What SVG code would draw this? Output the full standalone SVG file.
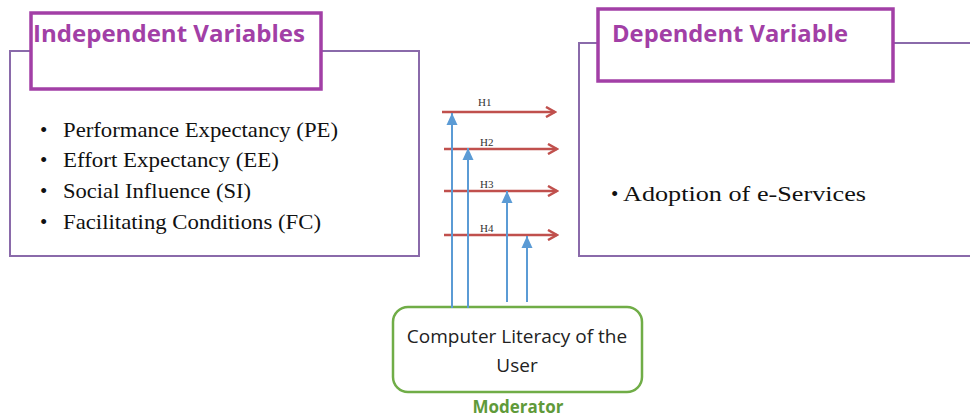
<svg xmlns="http://www.w3.org/2000/svg" width="970" height="417" viewBox="0 0 970 417">
<style>
.outer{fill:#fff;stroke:#8a6aaa;stroke-width:2}
.title{fill:#fff;stroke:#a23fa6;stroke-width:3.5}
.ttext{font-family:"Open Sans","Liberation Sans",sans-serif;font-weight:bold;font-size:23px;fill:#a23fa6}
.item{font-family:"Liberation Serif",serif;font-size:21px;fill:#111}
.h{font-family:"Liberation Serif",serif;font-size:11px;fill:#333}
.red{stroke:#c0504d;stroke-width:2.5;fill:none}
.blue{stroke:#5b9bd5;stroke-width:2;fill:none}
.mod{font-family:"Open Sans","Liberation Sans",sans-serif;font-size:19px;fill:#222}
</style>
<defs>
<marker id="ra" markerWidth="12" markerHeight="12" refX="10" refY="6" orient="auto" markerUnits="userSpaceOnUse">
<path d="M1,1 L10,6 L1,11" fill="none" stroke="#c0504d" stroke-width="2.5"/>
</marker>
<marker id="ba" markerWidth="13" markerHeight="12" refX="12" refY="6" orient="auto" markerUnits="userSpaceOnUse">
<path d="M0,0.5 L12,6 L0,11.5 Z" fill="#5b9bd5"/>
</marker>
</defs>
<rect width="970" height="417" fill="#fff"/>
<g id="independent">
<rect class="outer" x="10" y="51" width="409" height="205"/>
<rect class="title" x="31" y="13" width="290" height="76"/>
<text class="ttext" x="33" y="42" textLength="272" lengthAdjust="spacingAndGlyphs">Independent Variables</text>
<g class="item">
<text x="40" y="137">•</text><text x="63" y="137" textLength="275" lengthAdjust="spacingAndGlyphs">Performance Expectancy (PE)</text>
<text x="40" y="167">•</text><text x="63" y="167" textLength="216" lengthAdjust="spacingAndGlyphs">Effort Expectancy (EE)</text>
<text x="40" y="198">•</text><text x="63" y="198" textLength="188" lengthAdjust="spacingAndGlyphs">Social Influence (SI)</text>
<text x="40" y="229">•</text><text x="63" y="229" textLength="258" lengthAdjust="spacingAndGlyphs">Facilitating Conditions (FC)</text>
</g>
</g>
<g id="dependent">
<rect class="outer" x="579" y="43" width="400" height="213"/>
<rect class="title" x="598" y="9" width="295" height="72"/>
<text class="ttext" x="612" y="42" textLength="236" lengthAdjust="spacingAndGlyphs">Dependent Variable</text>
<text class="item" x="611" y="201" font-size="24">•</text>
<text class="item" x="623" y="201" font-size="24" textLength="243" lengthAdjust="spacingAndGlyphs">Adoption of e-Services</text>
</g>
<g id="moderator">
<rect x="393" y="307" width="249" height="85" rx="15" fill="#fff" stroke="#70ad47" stroke-width="2.5"/>
<text class="mod" x="517" y="343" text-anchor="middle">Computer Literacy of the</text>
<text class="mod" x="517" y="372" text-anchor="middle">User</text>
<text x="518" y="413" text-anchor="middle" font-family="Open Sans, Liberation Sans, sans-serif" font-weight="bold" font-size="17" fill="#5f9a3a">Moderator</text>
</g>
<g id="connectors">
<line class="red" x1="442" y1="112" x2="555" y2="112" marker-end="url(#ra)"/>
<line class="red" x1="444" y1="149" x2="557" y2="149" marker-end="url(#ra)"/>
<line class="red" x1="444" y1="191" x2="557" y2="191" marker-end="url(#ra)"/>
<line class="red" x1="444" y1="235" x2="557" y2="235" marker-end="url(#ra)"/>
<text class="h" x="478" y="106">H1</text>
<text class="h" x="480" y="146">H2</text>
<text class="h" x="480" y="188">H3</text>
<text class="h" x="480" y="232">H4</text>
<line class="blue" x1="452" y1="308" x2="452" y2="113" marker-end="url(#ba)"/>
<line class="blue" x1="468" y1="308" x2="468" y2="148" marker-end="url(#ba)"/>
<line class="blue" x1="507" y1="302" x2="507" y2="191" marker-end="url(#ba)"/>
<line class="blue" x1="527" y1="302" x2="527" y2="236" marker-end="url(#ba)"/>
</g>
</svg>
